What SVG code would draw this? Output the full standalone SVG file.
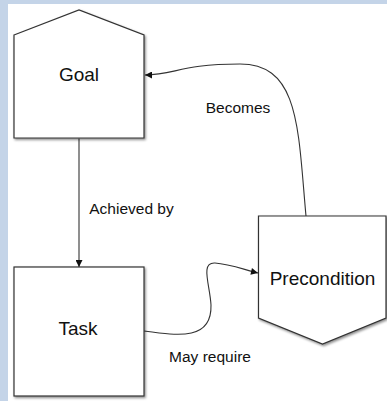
<svg xmlns="http://www.w3.org/2000/svg" width="387" height="401" viewBox="0 0 387 401">
  <style>
    .node { fill: #ffffff; stroke: #333333; stroke-width: 1.2; filter: url(#shadow); }
    .nlabel { font-family: "Liberation Sans", Arial, sans-serif; font-size: 19px; fill: #111111; text-anchor: middle; }
    .elabel { font-family: "Liberation Sans", Arial, sans-serif; font-size: 15.5px; fill: #111111; text-anchor: middle; }
    .edge { fill: none; stroke: #333333; stroke-width: 1.1; marker-end: url(#arrow); }
  </style>
  <defs>
    <filter id="shadow" x="-10%" y="-10%" width="130%" height="130%">
      <feDropShadow dx="1.2" dy="1.5" stdDeviation="0.9" flood-color="#000000" flood-opacity="0.45"/>
    </filter>
    <marker id="arrow" viewBox="0 0 10 10" refX="10" refY="5" markerWidth="8" markerHeight="7" markerUnits="userSpaceOnUse" orient="auto">
      <path d="M0,0 L10,5 L0,10 z" fill="#111111"/>
    </marker>
  </defs>

  <!-- page background and frame -->
  <rect x="0" y="0" width="387" height="401" fill="#c4d4e8"/>
  <rect x="8" y="4" width="379" height="397" fill="#ffffff"/>

  <!-- connectors -->
  <g id="connectors">
    <path class="edge" d="M79,138.5 L79,267"/>
    <path class="edge" d="M306,216 C298,130 300,64 240,64 S175,75 145,75"/>
    <path class="edge" d="M144,331 C180,336 212,340 211,305 C210,285 200,262 215,263 C230,264 245,270 258,273"/>
    <text class="elabel" x="131.5" y="213.5">Achieved by</text>
    <text class="elabel" x="238" y="113">Becomes</text>
    <text class="elabel" x="210" y="362">May require</text>
  </g>

  <!-- nodes -->
  <g id="goal">
    <path class="node" d="M14,35 L79,10 L144,35 L144,138 L14,138 Z"/>
    <text class="nlabel" x="79" y="81">Goal</text>
  </g>
  <g id="task">
    <rect class="node" x="14" y="267" width="130" height="129"/>
    <text class="nlabel" x="78" y="335">Task</text>
  </g>
  <g id="precondition">
    <path class="node" d="M258.5,216 L386,216 L386,318 L322.5,344 L258.5,318 Z"/>
    <text class="nlabel" x="322.5" y="284.5">Precondition</text>
  </g>
</svg>
